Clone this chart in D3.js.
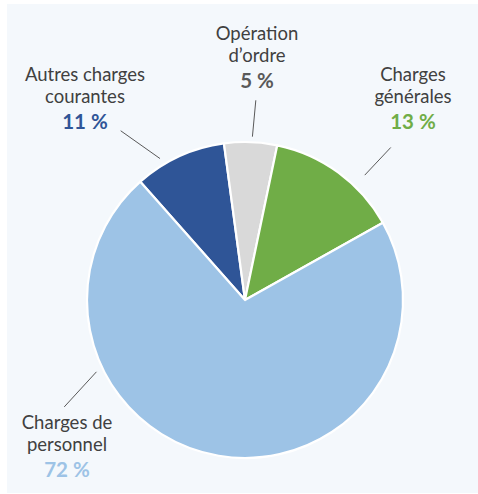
<!DOCTYPE html>
<html>
<head>
    <meta charset="UTF-8">
    <script src="https://cdn.jsdelivr.net/npm/d3@7"></script>
    <style>
        body { margin: 0; background: #ffffff; }
        text { font-family: Lato, "Noto Sans", sans-serif; }
    </style>
</head>
<body>
    <div id="chart"></div>
    <script>
        // slice data, clockwise from the dark blue slice
        var categories = ["Autres charges courantes", "Opération d’ordre", "Charges générales", "Charges de personnel"];
        var nameLines = [["Autres charges", "courantes"], ["Opération", "d’ordre"], ["Charges", "générales"], ["Charges de", "personnel"]];
        var shares = [9.4, 5.4, 13.6, 71.6];          // slice sizes
        var pctLabels = ["11 %", "5 %", "13 %", "72 %"]; // printed percentages

        var colors = ["#2f5597", "#d9d9d9", "#70ad47", "#9dc3e6"];
        var pctColors = ["#2f5597", "#595959", "#70ad47", "#9dc3e6"];

        var width = 478, height = 494;
        var cx = 245, cy = 300, radius = 158;

        // label placement relative to pie centre: text centre x, first baseline y,
        // leader line as [angle deg, radius] pairs
        var layout = [
            { x: -160, y: -219.5, lead: [[-31, 165], [-36.3, 210]] },
            { x: 12, y: -260, lead: [[2.6, 163.5], [3.1, 200]] },
            { x: 168, y: -219.5, lead: [[43.8, 173], [43.7, 211]] },
            { x: -178, y: 129, lead: [[-115.8, 165], [-120.6, 210]] }
        ];

        var svg = d3.select("#chart")
            .append("svg")
            .attr("width", width)
            .attr("height", height);

        svg.append("rect")
            .attr("x", 7)
            .attr("y", 4)
            .attr("width", width - 7)
            .attr("height", 489)
            .attr("fill", "#f4f8fc");

        var g = svg.append("g")
            .attr("transform", "translate(" + cx + "," + cy + ")");

        var pie = d3.pie()
            .sort(null)
            .startAngle(-41.5 * Math.PI / 180)
            .endAngle((360 - 41.5) * Math.PI / 180)
            .value(function (d) { return d; });

        var arc = d3.arc().innerRadius(0).outerRadius(radius);

        g.selectAll("path.slice")
            .data(pie(shares))
            .enter()
            .append("path")
            .attr("class", "slice")
            .attr("d", arc)
            .attr("fill", function (d, i) { return colors[i]; })
            .attr("stroke", "#ffffff")
            .attr("stroke-width", 2.2)
            .attr("stroke-linejoin", "round");

        function polar(a, r) {
            var t = a * Math.PI / 180;
            return [Math.sin(t) * r, -Math.cos(t) * r];
        }

        // leader lines
        g.selectAll("line.leader")
            .data(layout)
            .enter()
            .append("line")
            .attr("class", "leader")
            .attr("x1", function (d) { return polar(d.lead[0][0], d.lead[0][1])[0]; })
            .attr("y1", function (d) { return polar(d.lead[0][0], d.lead[0][1])[1]; })
            .attr("x2", function (d) { return polar(d.lead[1][0], d.lead[1][1])[0]; })
            .attr("y2", function (d) { return polar(d.lead[1][0], d.lead[1][1])[1]; })
            .attr("stroke", "#595959")
            .attr("stroke-width", 1);

        // labels: the name is one text with a tspan per line
        var labels = g.selectAll("g.label")
            .data(categories)
            .enter()
            .append("g")
            .attr("class", "label")
            .attr("transform", function (d, i) { return "translate(" + layout[i].x + "," + layout[i].y + ")"; });

        labels.each(function (d, i) {
            var lab = d3.select(this);
            var name = lab.append("text")
                .attr("text-anchor", "middle")
                .attr("font-size", "18.5px")
                .attr("fill", "#404040");
            nameLines[i].forEach(function (line, j) {
                name.append("tspan")
                    .attr("x", 0)
                    .attr("y", j * 22.4)
                    .text(line);
            });
            lab.append("text")
                .attr("x", 0)
                .attr("y", 48)
                .attr("text-anchor", "middle")
                .attr("font-size", "20.5px")
                .attr("font-weight", "bold")
                .attr("fill", pctColors[i])
                .text(pctLabels[i]);
        });
    </script>
</body>
</html>
